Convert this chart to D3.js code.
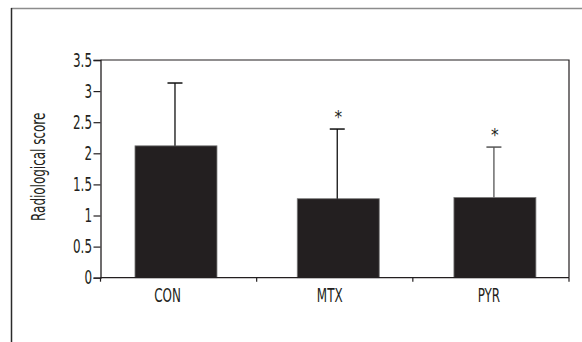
<!DOCTYPE html>
<html>
<head>
<meta charset="utf-8">
<script src="https://cdn.jsdelivr.net/npm/d3@7"></script>
<style>
  html, body { margin: 0; padding: 0; background: #fff; }
  svg { display: block; }
  text { font-family: "Liberation Sans Narrow", "DejaVu Sans Condensed", "Roboto", sans-serif; fill: #231f20; }
</style>
</head>
<body>
<svg id="chart" width="582" height="342"></svg>
<script>
// Group names, mean radiological scores and upper error-bar ends
const categories = ["CON", "MTX", "PYR"];
const means = [2.12, 1.27, 1.29];
const upperErrors = [3.13, 2.39, 2.10];
const significant = [false, true, true];
const yTicks = [0, 0.5, 1, 1.5, 2, 2.5, 3, 3.5];
const yLabel = "Radiological score";

const svg = d3.select("#chart");
const W = 582, H = 342;
const plot = { left: 100.5, right: 569, top: 60, bottom: 277.7 };
const FONT = "'DejaVu Sans Condensed', 'Liberation Sans Narrow', sans-serif";
const FS = 19, SX = 0.7; // condensed lettering: larger size, squeezed horizontally

function label(parent, x0, y0, txt, anchor, rotate) {
  return parent.append("text")
    .attr("transform", `translate(${x0},${y0})` + (rotate ? ` rotate(${rotate})` : "") + ` scale(${SX},1)`)
    .attr("text-anchor", anchor)
    .attr("font-family", FONT).attr("font-size", FS)
    .attr("fill", "#231f20")
    .text(txt);
}

// Outer frame: grey top rule and dark left rule
svg.append("line").attr("x1", 11).attr("x2", W).attr("y1", 8.5).attr("y2", 8.5)
  .attr("stroke", "#8c8c8c").attr("stroke-width", 1.5);
svg.append("line").attr("x1", 11.5).attr("x2", 11.5).attr("y1", 8).attr("y2", H)
  .attr("stroke", "#2b2b2b").attr("stroke-width", 1.5);

const x = d3.scaleBand().domain(categories).range([plot.left, plot.right]).padding(0);
const y = d3.scaleLinear().domain([0, 3.5]).range([plot.bottom, plot.top]);

const g = svg.append("g");

// Plot box (top and right edges)
g.append("path")
  .attr("d", `M${plot.left},${plot.top}H${plot.right}V${plot.bottom}`)
  .attr("fill", "none").attr("stroke", "#231f20").attr("stroke-width", 1.2);

// Bars
const barW = x.bandwidth() * 0.525;
const barShift = [-2.6, 3.5, 4];
g.selectAll("rect.bar").data(categories).join("rect")
  .attr("class", "bar")
  .attr("x", (d, i) => x(d) + (x.bandwidth() - barW) / 2 + barShift[i])
  .attr("width", barW)
  .attr("y", (d, i) => y(means[i]))
  .attr("height", (d, i) => y(0) - y(means[i]))
  .attr("fill", "#231f20")
  .attr("stroke", "#7a7a7a").attr("stroke-width", 0.8);

// Upward error bars with caps
const errColors = ["#111", "#111", "#555"];
categories.forEach((c, i) => {
  const cx = x(c) + x.bandwidth() / 2 + barShift[i] - 1;
  g.append("line").attr("x1", cx).attr("x2", cx)
    .attr("y1", y(means[i])).attr("y2", y(upperErrors[i]))
    .attr("stroke", errColors[i]).attr("stroke-width", 1.3);
  g.append("line").attr("x1", cx - 7.5).attr("x2", cx + 7.5)
    .attr("y1", y(upperErrors[i])).attr("y2", y(upperErrors[i]))
    .attr("stroke", errColors[i]).attr("stroke-width", 1.5);
  if (significant[i]) {
    g.append("text").attr("x", cx + 1).attr("y", y(upperErrors[i]) - 6)
      .attr("text-anchor", "middle").attr("font-size", 17).attr("fill", "#555")
      .attr("font-family", FONT)
      .text("*");
  }
});

// Y axis (line and ticks from d3, labels drawn condensed)
const yAxis = d3.axisLeft(y).tickValues(yTicks).tickSize(7).tickFormat("");
const ya = g.append("g").attr("transform", `translate(${plot.left},0)`).call(yAxis);
ya.select(".domain").attr("stroke", "#231f20").attr("stroke-width", 1.3);
ya.selectAll(".tick line").attr("stroke", "#231f20").attr("stroke-width", 1.2);
const fmt = d3.format("~g");
yTicks.forEach(v => label(g, plot.left - 8.5, y(v) + 6.5, fmt(v), "end"));

// X axis with ticks at category boundaries
const xa = g.append("g").attr("transform", `translate(0,${plot.bottom})`);
xa.append("line").attr("x1", plot.left).attr("x2", plot.right)
  .attr("stroke", "#231f20").attr("stroke-width", 1.3);
const bounds = categories.map(c => x(c)).concat([plot.right]);
xa.selectAll("line.bt").data(bounds).join("line").attr("class", "bt")
  .attr("x1", d => d).attr("x2", d => d).attr("y1", 0).attr("y2", 4)
  .attr("stroke", "#231f20").attr("stroke-width", 1.2);
const labelShift = [-11, -5, -2];
categories.forEach((c, i) =>
  label(xa, x(c) + x.bandwidth() / 2 + labelShift[i], 24, c, "middle"));

// Y-axis title
label(svg, 45, (plot.top + plot.bottom) / 2 - 2, yLabel, "middle", -90);
</script>
</body>
</html>
